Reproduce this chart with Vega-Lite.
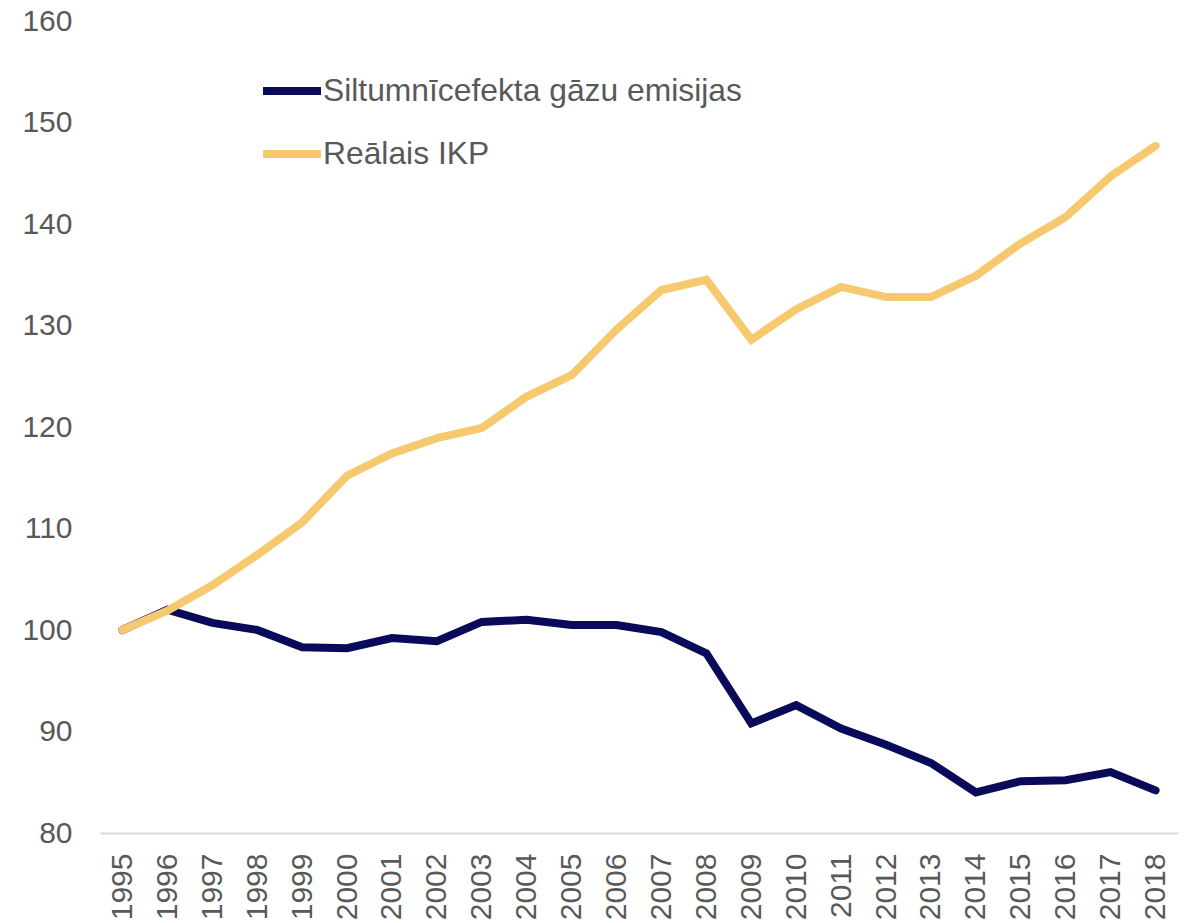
{
  "$schema": "https://vega.github.io/schema/vega-lite/v6.json",
  "width": 1078,
  "height": 812,
  "autosize": {"type": "none"},
  "padding": {"left": 100, "top": 21, "right": 15, "bottom": 90},
  "background": "white",
  "config": {
    "view": {"stroke": null},
    "font": "Liberation Sans"
  },
  "data": {
    "values": [
      {"year": "1995", "series": "Siltumnīcefekta gāzu emisijas", "value": 100.0},
      {"year": "1996", "series": "Siltumnīcefekta gāzu emisijas", "value": 102.0},
      {"year": "1997", "series": "Siltumnīcefekta gāzu emisijas", "value": 100.7},
      {"year": "1998", "series": "Siltumnīcefekta gāzu emisijas", "value": 100.0},
      {"year": "1999", "series": "Siltumnīcefekta gāzu emisijas", "value": 98.3},
      {"year": "2000", "series": "Siltumnīcefekta gāzu emisijas", "value": 98.2},
      {"year": "2001", "series": "Siltumnīcefekta gāzu emisijas", "value": 99.2},
      {"year": "2002", "series": "Siltumnīcefekta gāzu emisijas", "value": 98.9},
      {"year": "2003", "series": "Siltumnīcefekta gāzu emisijas", "value": 100.8},
      {"year": "2004", "series": "Siltumnīcefekta gāzu emisijas", "value": 101.0},
      {"year": "2005", "series": "Siltumnīcefekta gāzu emisijas", "value": 100.5},
      {"year": "2006", "series": "Siltumnīcefekta gāzu emisijas", "value": 100.5},
      {"year": "2007", "series": "Siltumnīcefekta gāzu emisijas", "value": 99.8},
      {"year": "2008", "series": "Siltumnīcefekta gāzu emisijas", "value": 97.7},
      {"year": "2009", "series": "Siltumnīcefekta gāzu emisijas", "value": 90.8},
      {"year": "2010", "series": "Siltumnīcefekta gāzu emisijas", "value": 92.6},
      {"year": "2011", "series": "Siltumnīcefekta gāzu emisijas", "value": 90.3},
      {"year": "2012", "series": "Siltumnīcefekta gāzu emisijas", "value": 88.7},
      {"year": "2013", "series": "Siltumnīcefekta gāzu emisijas", "value": 86.9},
      {"year": "2014", "series": "Siltumnīcefekta gāzu emisijas", "value": 84.0},
      {"year": "2015", "series": "Siltumnīcefekta gāzu emisijas", "value": 85.1},
      {"year": "2016", "series": "Siltumnīcefekta gāzu emisijas", "value": 85.2},
      {"year": "2017", "series": "Siltumnīcefekta gāzu emisijas", "value": 86.0},
      {"year": "2018", "series": "Siltumnīcefekta gāzu emisijas", "value": 84.2},
      {"year": "1995", "series": "Reālais IKP", "value": 100.0},
      {"year": "1996", "series": "Reālais IKP", "value": 101.9},
      {"year": "1997", "series": "Reālais IKP", "value": 104.4},
      {"year": "1998", "series": "Reālais IKP", "value": 107.4},
      {"year": "1999", "series": "Reālais IKP", "value": 110.6},
      {"year": "2000", "series": "Reālais IKP", "value": 115.2},
      {"year": "2001", "series": "Reālais IKP", "value": 117.4},
      {"year": "2002", "series": "Reālais IKP", "value": 118.9},
      {"year": "2003", "series": "Reālais IKP", "value": 119.9},
      {"year": "2004", "series": "Reālais IKP", "value": 123.0},
      {"year": "2005", "series": "Reālais IKP", "value": 125.1},
      {"year": "2006", "series": "Reālais IKP", "value": 129.6},
      {"year": "2007", "series": "Reālais IKP", "value": 133.5},
      {"year": "2008", "series": "Reālais IKP", "value": 134.5},
      {"year": "2009", "series": "Reālais IKP", "value": 128.6},
      {"year": "2010", "series": "Reālais IKP", "value": 131.6},
      {"year": "2011", "series": "Reālais IKP", "value": 133.8},
      {"year": "2012", "series": "Reālais IKP", "value": 132.8},
      {"year": "2013", "series": "Reālais IKP", "value": 132.8},
      {"year": "2014", "series": "Reālais IKP", "value": 134.9},
      {"year": "2015", "series": "Reālais IKP", "value": 138.1},
      {"year": "2016", "series": "Reālais IKP", "value": 140.7},
      {"year": "2017", "series": "Reālais IKP", "value": 144.7},
      {"year": "2018", "series": "Reālais IKP", "value": 147.7}
    ]
  },
  "mark": {"type": "line", "strokeWidth": 8, "strokeCap": "round", "strokeJoin": "miter"},
  "encoding": {
    "x": {
      "field": "year",
      "type": "ordinal",
      "scale": {"type": "point", "padding": 0.5},
      "axis": {
        "title": null,
        "labelAngle": -90,
        "labelAlign": "right",
        "labelBaseline": "middle",
        "labelFontSize": 30,
        "labelColor": "#595959",
        "labelPadding": 20,
        "ticks": false,
        "domain": true,
        "domainColor": "#d9d9d9",
        "domainWidth": 2,
        "grid": false
      }
    },
    "y": {
      "field": "value",
      "type": "quantitative",
      "scale": {"domain": [80, 160], "nice": false, "zero": false},
      "axis": {
        "title": null,
        "values": [80, 90, 100, 110, 120, 130, 140, 150, 160],
        "labelFontSize": 30,
        "labelColor": "#595959",
        "labelPadding": 28,
        "ticks": false,
        "domain": false,
        "grid": false
      }
    },
    "color": {
      "field": "series",
      "type": "nominal",
      "scale": {
        "domain": ["Siltumnīcefekta gāzu emisijas", "Reālais IKP"],
        "range": ["#0A0A5A", "#F6C96F"]
      },
      "legend": {
        "title": null,
        "orient": "none",
        "legendX": 159,
        "legendY": 37,
        "symbolType": "stroke",
        "symbolSize": 3364,
        "symbolStrokeWidth": 8,
        "labelFontSize": 31.8,
        "labelColor": "#595959",
        "labelOffset": -2,
        "rowPadding": 13,
        "labelLimit": 600
      }
    }
  }
}
